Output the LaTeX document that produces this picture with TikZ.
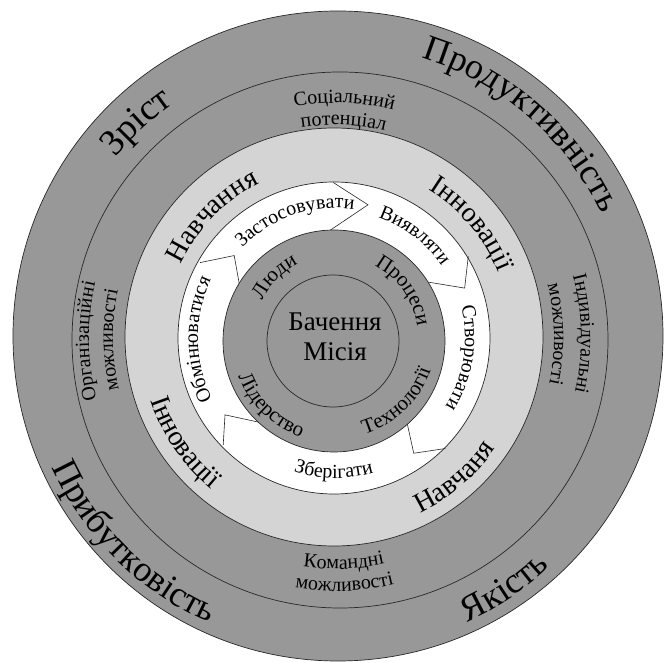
\documentclass[tikz,border=0pt]{standalone}
\usepackage{fontspec}
\setmainfont{Liberation Serif}
\usetikzlibrary{decorations.text,calc}
\definecolor{gdark}{RGB}{152,152,152}
\definecolor{glight}{RGB}{212,212,212}
\definecolor{lnc}{RGB}{40,40,40}
\newcommand\fs[1]{\fontsize{#1}{#1}\selectfont}
% clockwise arc text (tops outward): #1 centre, #2 baseline radius, #3 mid angle, #4 size, #5 text
\newcommand\cwtext[5]{%
  \path[decorate,decoration={text along path,text align=center,text={|\fs{#4}|#5}}]
    ($(#1)+({#3+70}:#2pt)$) arc[start angle={#3+70}, end angle={#3-70}, radius=#2pt];}
% counter-clockwise arc text (tops inward)
\newcommand\ccwtext[5]{%
  \path[decorate,decoration={text along path,text align=center,text={|\fs{#4}|#5}}]
    ($(#1)+({#3-70}:#2pt)$) arc[start angle={#3-70}, end angle={#3+70}, radius=#2pt];}
\tikzset{ringline/.style={draw=lnc,line width=0.7pt},
         chev/.style={draw=lnc,line width=0.6pt,line join=miter}}
\begin{document}
\begin{tikzpicture}[x=1pt,y=1pt]
\useasboundingbox (-336,-325) rectangle (330,338);
\coordinate (C) at (0,0);
\coordinate (Oc) at (2,2);
\coordinate (Sc) at (4,-2);
\coordinate (Lc) at (-2,1);
\coordinate (Wc) at (-2,0);
\coordinate (Dc) at (-2,-3);
\coordinate (Ic) at (-3,-3);
% rings
\fill[gdark] (Oc) circle[radius=325pt];
\draw[ringline] (Oc) circle[radius=325pt];
\draw[ringline] (Sc) circle[radius=268pt];
\filldraw[fill=glight,ringline] (Lc) circle[radius=209pt];
\filldraw[fill=white,ringline] (Wc) circle[radius=156pt];
% chevron boundaries
\foreach \ao/\at/\rt/\ai/\ri [count=\i] in {151/141/131/151.3/110, 91/76.5/137/93/108, 31.7/21.2/138/31.6/107, -45.3/-56/139/-50.4/112, 223.5/214.7/135/229.5/112}{
  \coordinate (co\i) at (\ao:155.5pt);
  \coordinate (ct\i) at (\at:\rt pt);
  \coordinate (ci\i) at (\ai:\ri pt);
  \draw[chev] (co\i) -- (ct\i) -- ($(ct\i)!1.4!(ci\i)$);
}
\filldraw[fill=gdark,ringline] (Dc) circle[radius=111pt];
\draw[ringline] (Ic) circle[radius=66pt];
% centre
\node[align=center,font=\fontsize{27}{30}\selectfont] (mission) at (-1,1) {Бачення\\Місія};
% outer ring
\cwtext{C}{285}{132.7}{37}{Зріст}
\cwtext{C}{293}{49}{36}{Продуктивність}
\ccwtext{C}{312}{225.2}{36}{Прибутковість}
\ccwtext{C}{313}{-56}{36}{Якість}
% second ring
\cwtext{C}{235}{88}{20}{Соціальний}
\cwtext{C}{213}{88}{20}{потенціал}
\cwtext{C}{247}{180.7}{20}{Організаційні}
\cwtext{C}{223}{180.5}{20}{можливості}
\cwtext{C}{245}{1}{20}{Індивідуальні}
\cwtext{C}{218}{1}{20}{можливості}
\ccwtext{C}{231}{-88}{20}{Командні}
\ccwtext{C}{253}{-88}{20}{можливості}
% light ring
\cwtext{C}{172}{135.5}{28}{Навчання}
\cwtext{C}{175}{40}{28}{Інновації}
\ccwtext{C}{196}{214.5}{28}{Інновації}
\ccwtext{C}{194}{-49.5}{28}{Навчаня}
% white ring
\cwtext{C}{130}{109}{20}{Застосовувати}
\cwtext{C}{128}{52.5}{20}{Виявляти}
\cwtext{C}{129}{-9}{20}{Створювати}
\ccwtext{C}{140}{-91}{20}{Зберігати}
\cwtext{C}{138}{180.6}{20}{Обмінюватися}
% dark ring
\cwtext{C}{83}{135}{21}{Люди}
\cwtext{C}{82}{35}{21}{Процеси}
\ccwtext{C}{100}{-46}{21}{Технології}
\ccwtext{C}{105}{226}{21}{Лідерство}
\end{tikzpicture}
\end{document}
